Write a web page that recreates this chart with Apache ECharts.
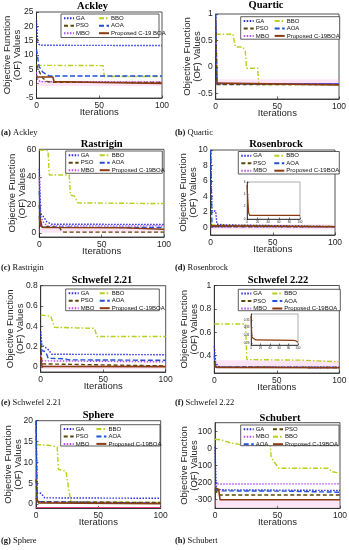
<!DOCTYPE html>
<html><head><meta charset="utf-8">
<script src="https://cdn.jsdelivr.net/npm/echarts@6.0.0/dist/echarts.min.js"></script>
<style>html,body{margin:0;padding:0;background:#fff}#c{width:349px;height:550px}</style>
</head><body><div id="c"></div>
<script>
// ================= DATA =================
const iterTicks = [0, 50, 100];
const insetIterTicks = [0, 20, 40, 60, 80, 100];

// (a) Ackley
const ackleyTicks = [-5, 0, 5, 10, 15, 20, 25];
const ackleyGA   = [[0,22],[1,14],[3,13.4],[100,13.3]];
const ackleyBBO  = [[0,6.4],[53,6.3],[54,2.5],[100,2.5]];
const ackleyPSO  = [[0,6.6],[1,5.5],[3,3.5],[5,2],[8,0.8],[12,0.5],[100,0.4]];
const ackleyAOA  = [[0,12],[2,6],[5,4],[10,2.7],[100,2.7]];
const ackleyMBO  = [[0,4],[1,1.5],[3,0.7],[100,0.6]];
const ackleyProp = [[0,2.3],[13,2.3],[14,0.7],[40,0.5],[41,0.1],[100,0.1]];
const ackleyBand = [-0.8, 1.0];

// (b) Quartic
const quarticTicks = [-0.5, 0, 0.5, 1];
const quarticGA   = [[0,1],[1,-0.31],[100,-0.31]];
const quarticBBO  = [[0,0.62],[14,0.62],[16,0.38],[22,0.38],[24,0.3],[25,-0.02],[34,-0.02],[35,-0.33],[100,-0.33]];
const quarticPSO  = [[0,0.9],[1,-0.33],[100,-0.33]];
const quarticAOA  = [[0,1],[1,-0.32],[100,-0.32]];
const quarticMBO  = [[0,0.8],[1,-0.31],[100,-0.31]];
const quarticProp = [[0,-0.3],[1,-0.335],[100,-0.335]];
const quarticBand = [-0.33, -0.23];

// (c) Rastrigin
const rastriginTicks = [0, 20, 40, 60];
const rastriginGA   = [[0,46],[1,14],[3,12],[6,8],[10,6.2],[100,6]];
const rastriginBBO  = [[0,59.5],[7,59],[8,41.5],[24,41.5],[25,27],[28,26.5],[31,21.5],[100,21]];
const rastriginPSO  = [[0,20],[1,8],[2,4.5],[16,4],[18,1],[20,0.5],[100,0.5]];
const rastriginAOA  = [[0,30],[1,10],[2,5],[5,4],[100,3.8]];
const rastriginMBO  = [[0,40],[1,12],[3,8],[6,5],[100,5]];
const rastriginProp = [[0,12],[1,5],[3,3.8],[67,3.6],[68,2.6],[100,2.6]];
const rastriginBand = [0, 3];

// (d) Rosenbrock
const rosenTicks = [0, 2, 4, 6, 8, 10];
const rosenGA   = [[0,10],[1,2.1],[4,2.1],[5,0.4],[12,0.3],[13,0.1],[100,0.1]];
const rosenBBO  = [[0,0.3],[1,0.15],[100,0.12]];
const rosenPSO  = [[0,0.5],[1,0.1],[100,0.08]];
const rosenAOA  = [[0,10],[1,0.1],[100,0.08]];
const rosenMBO  = [[0,0.4],[1,0.06],[100,0.05]];
const rosenProp = [[0,0.2],[1,0.08],[100,0.06]];
const rosenBand = [-0.3, 0.4];
const rosenInsetTicks = [0, 2, 4, 6];
const rosenInsetProp = [[0,5.5],[1,5.5],[3,1],[5,0.6],[100,0.6]];
const rosenInsetBand = [0, 1.6];

// (e) Schwefel 2.21
const s221Ticks = [0, 0.2, 0.4, 0.6, 0.8];
const s221GA   = [[0,0.35],[1,0.21],[3,0.2],[6,0.17],[9,0.125],[100,0.12]];
const s221BBO  = [[0,0.51],[8,0.5],[11,0.39],[43,0.38],[45,0.3],[100,0.3]];
const s221PSO  = [[0,0.22],[1,0.03],[100,0.01]];
const s221AOA  = [[0,0.25],[1,0.16],[4,0.15],[6,0.085],[20,0.08],[22,0.07],[100,0.065]];
const s221MBO  = [[0,0.12],[1,0.06],[100,0.05]];
const s221Prop = [[0,0.1],[1,0.005],[100,0.003]];
const s221Band = [-0.02, 0.02];

// (f) Schwefel 2.22
const s222Ticks = [0.4, 0.6, 0.8, 1];
const s222GA   = [[0,0.48],[1,0.34],[3,0.31],[5,0.3],[100,0.3]];
const s222BBO  = [[0,0.67],[25,0.67],[26,0.365],[70,0.36],[71,0.345],[100,0.345]];
const s222PSO  = [[0,0.35],[1,0.3],[100,0.297]];
const s222AOA  = [[0,0.4],[1,0.3],[100,0.297]];
const s222MBO  = [[0,0.33],[1,0.305],[6,0.3],[100,0.297]];
const s222Prop = [[0,0.32],[2,0.298],[100,0.295]];
const s222Band = [0.3, 0.36];
const s222InsetTicks = [0.29, 0.31, 0.33, 0.35];
const s222InsetProp = [[0,0.36],[1,0.33],[2,0.305],[4,0.3],[10,0.298],[90,0.297],[95,0.296],[96,0.292],[100,0.292]];
const s222InsetBand = [0.29, 0.3];

// (g) Sphere
const sphereTicks = [0, 5, 10, 15, 20];
const sphereGA   = [[0,20],[1,2.6],[4,2.6],[7,1.5],[100,1.4]];
const sphereBBO  = [[0,14.3],[10,14.1],[11,13.8],[17,13.7],[18,8.3],[24,7.9],[25,7.5],[26,4],[28,0.5],[100,0.4]];
const spherePSO  = [[0,6],[1,0.8],[3,0.5],[100,0.4]];
const sphereAOA  = [[0,20],[1,0.6],[100,0.2]];
const sphereMBO  = [[0,9],[1,0.5],[100,0.3]];
const sphereProp = [[0,1.5],[2,0.3],[100,0.1]];
const sphereRedLine = [-0.7];

// (h) Schubert
const schubertTicks = [-300, -200, -100, 0, 100];
const schubertGA   = [[0,10],[1,-235],[5,-242],[60,-244],[100,-246]];
const schubertBBO  = [[0,53],[5,50],[6,43],[12,33],[20,22],[44,20],[45,-50],[47,-76],[51,-116],[91,-116],[93,-135],[100,-145]];
const schubertPSO  = [[0,-240],[2,-265],[4,-272],[100,-272]];
const schubertAOA  = [[0,-235],[2,-248],[60,-250],[70,-252],[100,-256]];
const schubertMBO  = [[0,-220],[2,-208],[100,-207]];
const schubertProp = [[0,-230],[3,-240],[4,-300],[100,-300]];
const schubertBand = [-345, -300];

// ================= STYLES / LAYOUT =================
const FONT = 'Liberation Sans';
const SERIF = 'Liberation Serif';
const INK = '#262626';
const STY = {
  GA:   {color:'#2a2ae0', type:[1.5,1.5], width:1.4},
  BBO:  {color:'#b9cf1c', type:[5,2,1.5,2], width:1.4},
  PSO:  {color:'#5a4708', type:[4,2.5], width:1.4},
  AOA:  {color:'#1f52d6', type:[5,2.5], width:1.4},
  MBO:  {color:'#b34cf2', type:[1.5,1.5], width:1.4},
  PROP: {color:'#8a3b12', type:'solid', width:1.6}
};

const panels = [
  {title:'Ackley', cap:'(a)', capName:'Ackley', grid:[36.5,12,125.5,86], y:[-5,25], yTicks:ackleyTicks,
   data:{GA:ackleyGA,BBO:ackleyBBO,PSO:ackleyPSO,AOA:ackleyAOA,MBO:ackleyMBO,PROP:ackleyProp}, propName:'Proposed C-19 BOA',
   band:ackleyBand, titlePos:[92.5,0.5], capPos:[1,128], lbox:[61,14,98,23.5], col2:35, nameGap:14,
   cols:[['GA','PSO','MBO'],['BBO','AOA','PROP']]},
  {title:'Quartic', cap:'(b)', capName:'Quartic', grid:[215.7,14,123.3,85], y:[-0.6,1], yTicks:quarticTicks,
   data:{GA:quarticGA,BBO:quarticBBO,PSO:quarticPSO,AOA:quarticAOA,MBO:quarticMBO,PROP:quarticProp}, propName:'Proposed C-19BOA',
   band:quarticBand, titlePos:[266,0], capPos:[175,128], lbox:[240.7,16.7,99,22.5], col2:31, nameGap:13.5,
   cols:[['GA','PSO','MBO'],['BBO','AOA','PROP']]},
  {title:'Rastrigin', cap:'(c)', capName:'Rastrigin', grid:[39.3,149.3,124.7,87.7], y:[-3,60], yTicks:rastriginTicks,
   data:{GA:rastriginGA,BBO:rastriginBBO,PSO:rastriginPSO,AOA:rastriginAOA,MBO:rastriginMBO,PROP:rastriginProp}, propName:'Proposed C-19BOA',
   band:rastriginBand, titlePos:[101.7,138.5], capPos:[1,263], lbox:[65.7,151,96.6,22.3], col2:31, nameGap:12,
   cols:[['GA','PSO','MBO'],['BBO','AOA','PROP']]},
  {title:'Rosenbrock', cap:'(d)', capName:'Rosenbrock', grid:[210.7,150,124.3,85], y:[-1,10], yTicks:rosenTicks,
   data:{GA:rosenGA,BBO:rosenBBO,PSO:rosenPSO,AOA:rosenAOA,MBO:rosenMBO,PROP:rosenProp}, propName:'Proposed C-19BOA',
   band:rosenBand, titlePos:[276,138.5], capPos:[175,263], lbox:[238.3,151.5,101,22.5], col2:33, nameGap:12,
   cols:[['GA','PSO','MBO'],['BBO','AOA','PROP']],
   inset:{grid:[247,182,53,37], y:[0,6], yTicks:rosenInsetTicks, data:rosenInsetProp, band:rosenInsetBand}},
  {title:'Schwefel 2.21', cap:'(e)', capName:'Schwefel 2.21', grid:[40.7,285.7,125,86.3], y:[-0.05,0.8], yTicks:s221Ticks,
   data:{GA:s221GA,BBO:s221BBO,PSO:s221PSO,AOA:s221AOA,MBO:s221MBO,PROP:s221Prop}, propName:'Proposed C-19BOA',
   band:s221Band, titlePos:[102,274.5], capPos:[1,398], lbox:[65.7,289,93.6,21.7], col2:31, nameGap:15.7,
   cols:[['GA','PSO','MBO'],['BBO','AOA','PROP']]},
  {title:'Schwefel 2.22', cap:'(f)', capName:'Schwefel 2.22', grid:[214.3,285.5,125,87.5], y:[0.25,1], yTicks:s222Ticks,
   data:{GA:s222GA,BBO:s222BBO,PSO:s222PSO,AOA:s222AOA,MBO:s222MBO,PROP:s222Prop}, propName:'Proposed C-19BOA',
   band:s222Band, titlePos:[278,274.5], capPos:[175,398], lbox:[238.3,289.3,102,21.4], col2:31, nameGap:15.3,
   cols:[['GA','PSO','MBO'],['BBO','AOA','PROP']],
   inset:{grid:[251,314,47,31], y:[0.285,0.365], yTicks:s222InsetTicks, data:s222InsetProp, band:s222InsetBand}},
  {title:'Sphere', cap:'(g)', capName:'Sphere', grid:[36,420.7,124.7,87.6], y:[-1,20], yTicks:sphereTicks,
   data:{GA:sphereGA,BBO:sphereBBO,PSO:spherePSO,AOA:sphereAOA,MBO:sphereMBO,PROP:sphereProp}, propName:'Proposed C-19BOA',
   band:null, redLine:sphereRedLine, titlePos:[98.3,410], capPos:[1,536], lbox:[60.7,424.7,99.3,21.3], col2:32.7, nameGap:12.3,
   cols:[['GA','PSO','MBO'],['BBO','AOA','PROP']]},
  {title:'Schubert', cap:'(h)', capName:'Schubert', grid:[215,422.7,125,85.6], y:[-350,150], yTicks:schubertTicks,
   data:{GA:schubertGA,BBO:schubertBBO,PSO:schubertPSO,AOA:schubertAOA,MBO:schubertMBO,PROP:schubertProp}, propName:'Proposed C-19BOA',
   band:schubertBand, titlePos:[280,412.5], capPos:[175,536], lbox:[240.7,425,98.3,20.7], col2:29.3, nameGap:16,
   cols:[['GA','MBO','AOA'],['PSO','BBO','PROP']]}
];

// ================= BUILD =================
const grids = [], xAxes = [], yAxes = [], series = [], titles = [], legends = [], graphics = [];
const order = ['BBO','GA','MBO','AOA','PSO','PROP'];

function axisCommon(ticks, fs) {
  return {
    axisLine:{show:true, onZero:false, lineStyle:{color:INK, width:0.8}},
    axisTick:{show:true, inside:true, length:fs<5?1.5:2.5, customValues:ticks, lineStyle:{color:INK, width:0.7}},
    axisLabel:{customValues:ticks, fontSize:fs, color:INK, fontFamily:FONT, margin:fs<5?1.5:3},
    splitLine:{show:false}
  };
}

panels.forEach((p, i) => {
  const gi = grids.length;
  grids.push({left:p.grid[0], top:p.grid[1], width:p.grid[2], height:p.grid[3], containLabel:false, outerBoundsMode:'none',
    show:true, borderColor:INK, borderWidth:0.8, backgroundColor:'transparent'});
  xAxes.push(Object.assign({gridIndex:gi, type:'value', min:0, max:100,
    name:'Iterations', nameLocation:'middle', nameGap:9, nameMoveOverlap:false,
    nameTextStyle:{fontSize:9.5, color:INK, fontFamily:FONT}}, axisCommon(iterTicks, 8.5)));
  yAxes.push(Object.assign({gridIndex:gi, type:'value', min:p.y[0], max:p.y[1],
    name:'Objective Function\n(OF) Values', nameLocation:'middle', nameGap:p.nameGap, nameRotate:90, nameMoveOverlap:false,
    nameTextStyle:{fontSize:9.5, color:INK, fontFamily:FONT, lineHeight:10}}, axisCommon(p.yTicks, 8.5)));
  order.forEach((k, j) => {
    const s = STY[k];
    const ser = {type:'line', name: k==='PROP' ? p.propName : k, xAxisIndex:gi, yAxisIndex:gi,
      data:p.data[k], symbol:'none', color:s.color, animation:false, z:2+j*0.1,
      lineStyle:{color:s.color, type:s.type, width:s.width}};
    if (j === 0 && p.band) {
      ser.markArea = {silent:true, itemStyle:{color:'rgba(250,170,230,0.3)'},
        data:[[{xAxis:0, yAxis:p.band[0]},{xAxis:100, yAxis:p.band[1]}]]};
    }
    if (j === 0 && p.redLine) {
      ser.markLine = {silent:true, symbol:'none', label:{show:false},
        lineStyle:{color:'#e8407a', type:'solid', width:1}, data:[{yAxis:p.redLine[0]}]};
    }
    series.push(ser);
  });
  titles.push({text:p.title, left:p.titlePos[0], top:p.titlePos[1], textAlign:'center', padding:0,
    textStyle:{fontSize:10.5, fontWeight:'bold', fontFamily:SERIF, color:'#000'}});
  titles.push({text:'{b|'+p.cap+'} '+p.capName, left:p.capPos[0], top:p.capPos[1], padding:0,
    textStyle:{fontSize:8.5, fontWeight:'normal', fontFamily:SERIF, color:'#111',
      rich:{b:{fontSize:8.5, fontWeight:'bold', fontFamily:SERIF, color:'#111'}}}});
  const b = p.lbox;
  graphics.push({type:'rect', z:50, shape:{x:b[0], y:b[1], width:b[2], height:b[3]},
    style:{fill:'#fff', stroke:'#333', lineWidth:0.8}});
  p.cols.forEach((col, c) => {
    legends.push({orient:'vertical', left:b[0]+2+(c?p.col2:0), top:b[1]+1.2, padding:0, z:60,
      itemWidth:10, itemHeight:1, itemGap:1.5, selectedMode:false,
      itemStyle:{opacity:0},
      textStyle:{fontSize:6, fontFamily:FONT, color:'#111', padding:[0,0,0,-3]},
      data: col.map(k => k==='PROP' ? p.propName : k)});
  });
  if (p.inset) {
    const q = p.inset;
    const ii = grids.length;
    grids.push({left:q.grid[0], top:q.grid[1], width:q.grid[2], height:q.grid[3], containLabel:false, outerBoundsMode:'none',
      show:true, borderColor:'#777', borderWidth:0.6, backgroundColor:'#fff', z:3});
    xAxes.push(Object.assign({gridIndex:ii, type:'value', min:0, max:100, z:3}, axisCommon(insetIterTicks, 3)));
    yAxes.push(Object.assign({gridIndex:ii, type:'value', min:q.y[0], max:q.y[1], z:3}, axisCommon(q.yTicks, 3)));
    series.push({type:'line', name:p.propName+' inset', xAxisIndex:ii, yAxisIndex:ii, data:q.data, symbol:'none',
      color:STY.PROP.color, animation:false, z:5, lineStyle:{color:STY.PROP.color, width:1.2},
      markArea:{silent:true, itemStyle:{color:'rgba(250,170,230,0.3)'},
        data:[[{xAxis:0, yAxis:q.band[0]},{xAxis:100, yAxis:q.band[1]}]]}});
  }
});

const chart = echarts.init(document.getElementById('c'), null, {renderer:'canvas'});
chart.setOption({
  backgroundColor:'#fff',
  animation:false,
  title:titles,
  grid:grids,
  xAxis:xAxes,
  yAxis:yAxes,
  legend:legends,
  graphic:{elements:graphics},
  series:series
});
</script>
</body></html>
